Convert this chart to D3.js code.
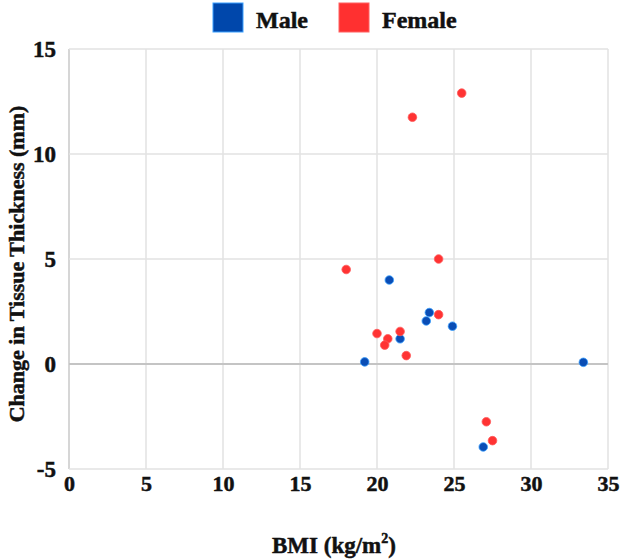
<!DOCTYPE html>
<html><head><meta charset="utf-8">
<script src="https://cdn.jsdelivr.net/npm/d3@7"></script>
<style>body{margin:0;background:#fff}svg{display:block}</style>
</head><body>
<svg id="chart" width="620" height="559"></svg>
<script>
const seriesNames = ["Male", "Female"];
const maleBMI = [20.8, 19.2, 21.5, 23.4, 23.2, 24.9, 26.9, 33.4];
const maleChange = [4.0, 0.1, 1.2, 2.45, 2.05, 1.8, -3.95, 0.08];
const femaleBMI = [18.0, 24.0, 20.0, 20.7, 20.5, 21.5, 21.9, 24.0, 27.1, 27.5, 22.3, 25.5];
const femaleChange = [4.5, 5.0, 1.45, 1.2, 0.9, 1.55, 0.4, 2.35, -2.75, -3.65, 11.75, 12.9];
const xTicks = [0, 5, 10, 15, 20, 25, 30, 35];
const yTicks = [-5, 0, 5, 10, 15];

const svg = d3.select("#chart");
const font = "'Liberation Serif', 'Times New Roman', serif";
const x = d3.scaleLinear().domain([0, 35]).range([69, 608]);
const y = d3.scaleLinear().domain([-5, 15]).range([469, 49]);

function boldText(sel, size) {
  sel.attr("font-family", font).attr("font-weight", "bold").attr("font-size", size)
    .attr("fill", "#111").attr("stroke", "#111").attr("stroke-width", 0.5);
}

// grid
svg.append("g").selectAll("line").data(xTicks).join("line")
  .attr("x1", d => x(d)).attr("x2", d => x(d)).attr("y1", y(15)).attr("y2", y(-5))
  .attr("stroke", d => d === 0 ? "#c8c8c8" : "#e2e2e2").attr("stroke-width", 1.5);
svg.append("g").selectAll("line").data(yTicks).join("line")
  .attr("x1", x(0)).attr("x2", x(35)).attr("y1", d => y(d)).attr("y2", d => y(d))
  .attr("stroke", d => d === 0 ? "#c4c4c4" : "#e2e2e2").attr("stroke-width", d => d === 0 ? 2 : 1.5);

// axes
const fmt = d => String(d);
const xAxis = d3.axisBottom(x).tickValues(xTicks).tickFormat(fmt).tickSize(0).tickPadding(6);
const gx = svg.append("g").attr("transform", `translate(0,${y(-5)})`).call(xAxis);
gx.select(".domain").remove();
gx.selectAll("text").call(boldText, 22);

const yAxis = d3.axisLeft(y).tickValues(yTicks).tickFormat(fmt).tickSize(0).tickPadding(13);
const gy = svg.append("g").attr("transform", `translate(${x(0)},0)`).call(yAxis);
gy.select(".domain").remove();
gy.selectAll("text").call(boldText, 23);

// points
const colors = {Male: "#0a4db5", Female: "#ff3333"};
const strokes = {Male: "#3aa0ff", Female: "#ff5a5a"};
const male = maleBMI.map((v, i) => ({x: v, y: maleChange[i]}));
const female = femaleBMI.map((v, i) => ({x: v, y: femaleChange[i]}));
svg.append("g").selectAll("circle").data(male).join("circle")
  .attr("cx", d => x(d.x)).attr("cy", d => y(d.y)).attr("r", 4.3)
  .attr("fill", colors.Male).attr("stroke", strokes.Male).attr("stroke-width", 0.8);
svg.append("g").selectAll("circle").data(female).join("circle")
  .attr("cx", d => x(d.x)).attr("cy", d => y(d.y)).attr("r", 4.3)
  .attr("fill", colors.Female).attr("stroke", strokes.Female).attr("stroke-width", 0.8);

// axis titles
svg.append("text").attr("x", 334).attr("y", 553).attr("text-anchor", "middle")
  .call(boldText, 23)
  .html('BMI (kg/m<tspan dy="-10" font-size="14">2</tspan><tspan dy="10">)</tspan>');
svg.append("text").attr("transform", "translate(24,264) rotate(-90)").attr("text-anchor", "middle")
  .call(boldText, 22)
  .text("Change in Tissue Thickness (mm)");

// legend
const legendX = [213, 339];
const lg = svg.append("g").selectAll("g").data(seriesNames).join("g")
  .attr("transform", (d, i) => `translate(${legendX[i]},3)`);
lg.append("rect").attr("width", 30).attr("height", 29)
  .attr("fill", d => d === "Male" ? "#0047ab" : "#ff3030")
  .attr("stroke", d => d === "Male" ? "#3aa0ff" : "#ff6060").attr("stroke-width", 1);
lg.append("text").attr("x", 43).attr("y", 25).call(boldText, 24)
  .text(d => d);
</script>
</body></html>
